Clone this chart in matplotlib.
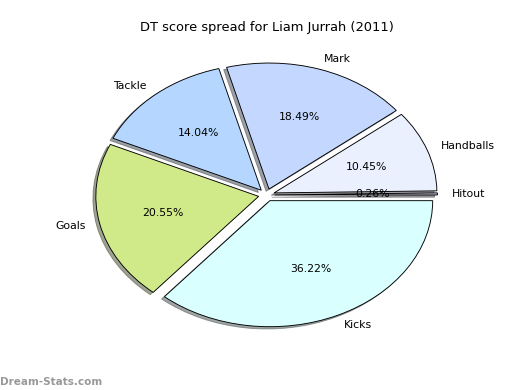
import matplotlib
matplotlib.use("Agg")
import matplotlib.pyplot as plt

labels = ["Hitout", "Handballs", "Mark", "Tackle", "Goals", "Kicks"]
values = [0.26, 10.45, 18.49, 14.04, 20.55, 36.22]
colors = ["#C8C8E0", "#EBF0FF", "#C4D8FF", "#B4D6FF", "#D0EA8A", "#D9FFFF"]
explode = [0.05] * len(values)

fig = plt.figure(figsize=(8, 6), dpi=65)
ax = fig.add_axes([0.125, 0.1, 0.775, 0.8])
ax.pie(values, labels=labels, colors=colors, explode=explode,
       autopct="%.2f%%", shadow=True, startangle=0, radius=1.01,
       labeldistance=1.09, pctdistance=0.6,
       wedgeprops={"edgecolor": "black", "linewidth": 1},
       textprops={"fontsize": 12})
ax.set_aspect("auto")
ax.set_xlim(-1.25, 1.25)
ax.set_ylim(-1.25, 1.25)
ax.set_title("DT score spread for Liam Jurrah (2011)", fontsize=14.4, pad=9)
fig.text(0.0, 0.008, "Dream-Stats.com", fontsize=11.5, color="#999999",
         fontweight="bold", ha="left", va="bottom")
fig.savefig("out.png", dpi=65)
